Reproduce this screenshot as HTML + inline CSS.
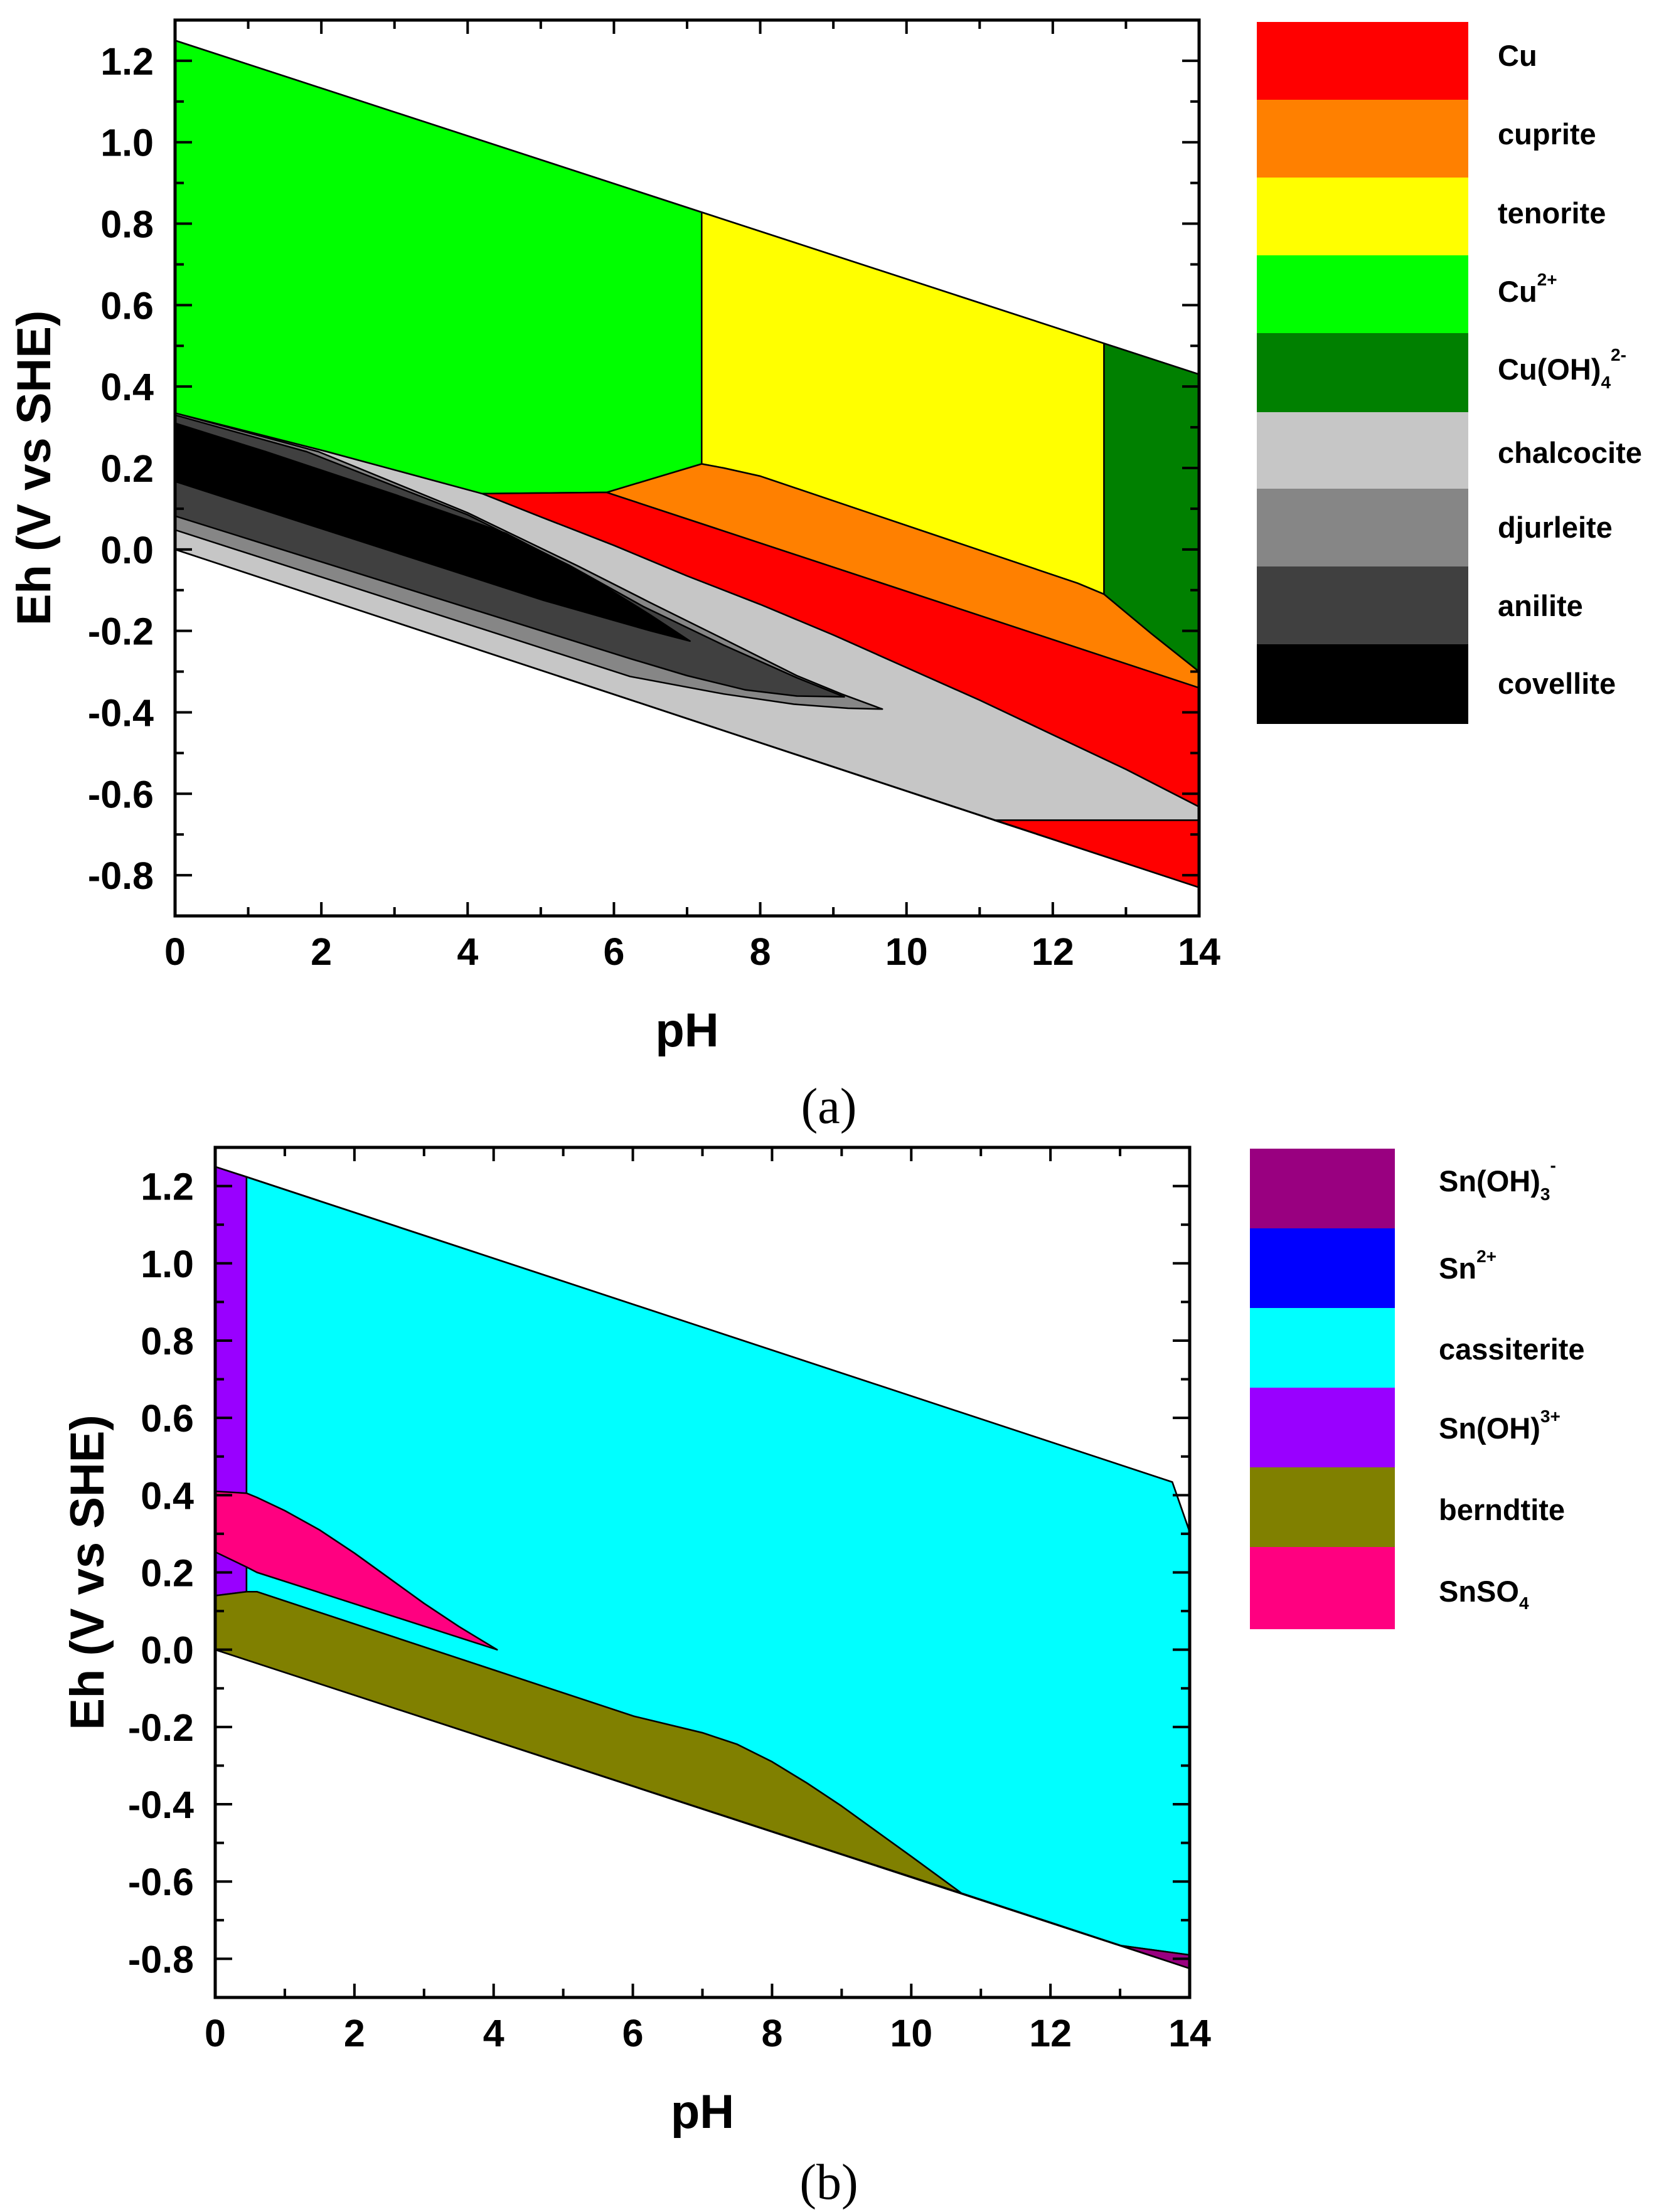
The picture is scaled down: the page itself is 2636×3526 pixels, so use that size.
<!DOCTYPE html>
<html>
<head>
<meta charset="utf-8">
<style>
html,body{margin:0;padding:0;background:#fff;}
svg{display:block;}
.tick{font-family:"Liberation Sans",sans-serif;font-weight:bold;font-size:61px;fill:#000;}
.title{font-family:"Liberation Sans",sans-serif;font-weight:bold;font-size:76px;fill:#000;}
.leg{font-family:"Liberation Sans",sans-serif;font-weight:bold;font-size:47px;fill:#000;}
.cap{font-family:"Liberation Serif",serif;font-size:80px;fill:#000;}
</style>
</head>
<body>
<svg id="fig" width="2636" height="3526" viewBox="0 0 2636 3526" xmlns="http://www.w3.org/2000/svg">
<rect x="0" y="0" width="2636" height="3526" fill="#fff"/>
<g id="chartA"></g>
<g id="chartB"></g>

<!-- Legend A -->
<g>
  <g><rect x="2003" y="35" width="337" height="125" fill="#ff0000"/><text class="leg" x="2387" y="105">Cu</text></g>
  <g><rect x="2003" y="159" width="337" height="125" fill="#ff8000"/><text class="leg" x="2387" y="230">cuprite</text></g>
  <g><rect x="2003" y="283" width="337" height="125" fill="#ffff00"/><text class="leg" x="2387" y="356">tenorite</text></g>
  <g><rect x="2003" y="407" width="337" height="125" fill="#00ff00"/><text class="leg" x="2387" y="481">Cu<tspan font-size="28" dy="-26">2+</tspan></text></g>
  <g><rect x="2003" y="531" width="337" height="126" fill="#008000"/><text class="leg" x="2387" y="605">Cu(OH)<tspan font-size="28" dy="14">4</tspan><tspan font-size="28" dy="-44">2-</tspan></text></g>
  <g><rect x="2003" y="657" width="337" height="123" fill="#c6c6c6"/><text class="leg" x="2387" y="738">chalcocite</text></g>
  <g><rect x="2003" y="779" width="337" height="125" fill="#868686"/><text class="leg" x="2387" y="857">djurleite</text></g>
  <g><rect x="2003" y="903" width="337" height="125" fill="#404040"/><text class="leg" x="2387" y="982">anilite</text></g>
  <g><rect x="2003" y="1027" width="337" height="127" fill="#000000"/><text class="leg" x="2387" y="1106">covellite</text></g>
</g>

<!-- Legend B -->
<g>
  <g><rect x="1992" y="1831" width="231" height="128" fill="#990080"/><text class="leg" x="2293" y="1899">Sn(OH)<tspan font-size="28" dy="14">3</tspan><tspan font-size="28" dy="-46">-</tspan></text></g>
  <g><rect x="1992" y="1958" width="231" height="128" fill="#0000ff"/><text class="leg" x="2293" y="2038">Sn<tspan font-size="28" dy="-26">2+</tspan></text></g>
  <g><rect x="1992" y="2085" width="231" height="128" fill="#00ffff"/><text class="leg" x="2293" y="2167">cassiterite</text></g>
  <g><rect x="1992" y="2212" width="231" height="128" fill="#9900ff"/><text class="leg" x="2293" y="2293">Sn(OH)<tspan font-size="28" dy="-26">3+</tspan></text></g>
  <g><rect x="1992" y="2339" width="231" height="128" fill="#808000"/><text class="leg" x="2293" y="2423">berndtite</text></g>
  <g><rect x="1992" y="2466" width="231" height="131" fill="#ff0080"/><text class="leg" x="2293" y="2553">SnSO<tspan font-size="28" dy="12">4</tspan></text></g>
</g>

<text class="cap" x="1321" y="1790" text-anchor="middle">(a)</text>
<text class="cap" x="1321" y="3505" text-anchor="middle">(b)</text>
</svg>

<script>
// ---------- Axis data ----------
const xTickLabels = ["0","2","4","6","8","10","12","14"];
const xTickValues = [0,2,4,6,8,10,12,14];
const yTickValues = [-0.8,-0.6,-0.4,-0.2,0.0,0.2,0.4,0.6,0.8,1.0,1.2];
const yTickLabels = ["-0.8","-0.6","-0.4","-0.2","0.0","0.2","0.4","0.6","0.8","1.0","1.2"];

// ---------- Chart A data (pH, Eh) ----------
const aChalcocite = [[0,0.335],[2.08,0.24],[4.2,0.137],[5,0.08],[6,0.01],[7,-0.065],[8,-0.135],[9,-0.21],[10,-0.29],[11,-0.37],[12,-0.455],[13,-0.54],[14,-0.632],[14,-0.665],[11.2,-0.665],[0,0]];
const aCu2plus = [[0,1.25],[7.2,0.828],[7.2,0.21],[5.9,0.14],[4.2,0.137],[2.08,0.24],[0,0.335]];
const aTenorite = [[7.2,0.828],[12.7,0.506],[12.7,-0.11],[12.34,-0.083],[8,0.18],[7.5,0.2],[7.2,0.21]];
const aCuprite = [[5.9,0.14],[7.2,0.21],[7.5,0.2],[8,0.18],[12.34,-0.083],[12.7,-0.11],[13.35,-0.207],[14,-0.30],[14,-0.34]];
const aCuOH4 = [[12.7,0.506],[14,0.43],[14,-0.30],[13.35,-0.207],[12.7,-0.11]];
const aCu = [[4.2,0.137],[5.9,0.14],[14,-0.34],[14,-0.632],[13,-0.54],[12,-0.455],[11,-0.37],[10,-0.29],[9,-0.21],[8,-0.135],[7,-0.065],[6,0.01],[5,0.08]];
const aCuLow = [[11.2,-0.665],[14,-0.665],[14,-0.83]];
const aDjurleite = [[0,0.335],[1.96,0.24],[4,0.09],[5.5,-0.04],[6.49,-0.13],[7.5,-0.22],[8.5,-0.31],[9.11,-0.355],[9.67,-0.392],[9.2,-0.39],[8.46,-0.38],[7.5,-0.355],[6.22,-0.312],[0,0.048]];
const aAnilite = [[0,0.33],[1.8,0.24],[4,0.085],[5.4,-0.04],[6.4,-0.14],[7.5,-0.235],[8.5,-0.315],[9.15,-0.362],[8.5,-0.36],[7.8,-0.345],[7,-0.31],[6.22,-0.268],[0,0.082]];
const aCovellite = [[0,0.31],[1.24,0.24],[3,0.135],[4.52,0.04],[5.6,-0.06],[6.49,-0.16],[7.04,-0.225],[6.5,-0.2],[5.04,-0.125],[0,0.167]];
const aWaterTop = [[0,1.25],[14,0.43]];
const aWaterBottom = [[0,0],[14,-0.83]];

// ---------- Chart B data ----------
const bSnOH3plus = [[0,1.25],[0.45,1.224],[0.45,0.15],[0,0.14]];
const bCassiterite = [[0.45,1.224],[13.75,0.434],[14,0.305],[14,-0.79],[13.02,-0.766],[10.72,-0.63],[10,-0.535],[9.5,-0.47],[9,-0.405],[8.5,-0.345],[8,-0.29],[7.5,-0.245],[7,-0.215],[6.01,-0.172],[0.6,0.15],[0.45,0.15]];
const bBerndtite = [[0,0.14],[0.45,0.15],[0.6,0.15],[6.01,-0.172],[7,-0.215],[7.5,-0.245],[8,-0.29],[8.5,-0.345],[9,-0.405],[9.5,-0.47],[10,-0.535],[10.72,-0.63],[0,0]];
const bSnSO4 = [[0,0.41],[0.45,0.405],[0.6,0.394],[1,0.36],[1.5,0.31],[2,0.25],[2.5,0.185],[3,0.12],[3.5,0.06],[4.05,0.0],[0.6,0.2],[0.45,0.214],[0,0.253]];
const bSnOH3minus = [[13.02,-0.766],[14,-0.79],[14,-0.825]];
const bWaterTop = [[0,1.25],[13.75,0.434],[14,0.305]];
const bWaterBottom = [[0,0],[14,-0.825]];

const NS = "http://www.w3.org/2000/svg";
function mk(tag, attrs, parent){
  const e = document.createElementNS(NS, tag);
  for (const k in attrs) e.setAttribute(k, attrs[k]);
  parent.appendChild(e);
  return e;
}

function drawChart(g, box, regions, lines, yTitleX){
  const xMin=0, xMax=14, yMin=-0.9, yMax=1.3;
  const sx = v => box.L + (v-xMin)/(xMax-xMin)*(box.R-box.L);
  const sy = v => box.B - (v-yMin)/(yMax-yMin)*(box.B-box.T);
  const regG = mk('g', {}, g);
  
  
  regions.forEach(r => {
    const p = mk('polygon', {points: r.pts.map(q => sx(q[0]).toFixed(1)+','+sy(q[1]).toFixed(1)).join(' '), fill: r.color, stroke:'#000', 'stroke-width':2.5, 'stroke-linejoin':'round'}, regG);
    
    
  });
  lines.forEach(l => {
    const p = mk('polyline', {points: l.pts.map(q => sx(q[0]).toFixed(1)+','+sy(q[1]).toFixed(1)).join(' '), fill:'none', stroke:'#000', 'stroke-width':2.5}, g);
    
    
  });
  const fr = mk('rect', {x:box.L, y:box.T, width:box.R-box.L, height:box.B-box.T, fill:'none', stroke:'#000', 'stroke-width':5}, g);
  
  
  const tk = mk('g', {stroke:'#000', 'stroke-width':4}, g);
  
  
  for (let v=0; v<=14; v+=1){
    const len = (v%2===0)?22:14, x=sx(v);
    mk('line',{x1:x,y1:box.B,x2:x,y2:box.B-len},tk);
    mk('line',{x1:x,y1:box.T,x2:x,y2:box.T+len},tk);
  }
  for (let i=-8; i<=12; i++){
    const v=i/10, major=(i%2===0), len=major?27:14, y=sy(v);
    mk('line',{x1:box.L,y1:y,x2:box.L+len,y2:y},tk);
    mk('line',{x1:box.R,y1:y,x2:box.R-len,y2:y},tk);
  }
  xTickValues.forEach((v,i) => {
    const t = mk('text',{x:sx(v), y:box.B+78, 'text-anchor':'middle', class:'tick'}, g);
    t.textContent = xTickLabels[i];
    
    
  });
  yTickValues.forEach((v,i) => {
    const t = mk('text',{x:box.L-34, y:sy(v)+22, 'text-anchor':'end', class:'tick'}, g);
    t.textContent = yTickLabels[i];
    
    
  });
  const xt = mk('text',{x:(box.L+box.R)/2, y:box.B+208, 'text-anchor':'middle', class:'title'}, g);
  xt.textContent = 'pH';
  
  
  const cy=(box.T+box.B)/2;
  const yt = mk('text',{x:yTitleX, y:cy, 'text-anchor':'middle', transform:'rotate(-90 '+yTitleX+' '+cy+')', class:'title'}, g);
  yt.textContent = 'Eh (V vs SHE)';
  
  
}

drawChart(document.getElementById('chartA'), {L:279,R:1911,T:32,B:1460}, [
  {name:'region-chalcocite', color:'#c6c6c6', pts:aChalcocite},
  {name:'region-cu2plus', color:'#00ff00', pts:aCu2plus},
  {name:'region-tenorite', color:'#ffff00', pts:aTenorite},
  {name:'region-cuprite', color:'#ff8000', pts:aCuprite},
  {name:'region-cuoh4', color:'#008000', pts:aCuOH4},
  {name:'region-cu', color:'#ff0000', pts:aCu},
  {name:'region-cu-low', color:'#ff0000', pts:aCuLow},
  {name:'region-djurleite', color:'#868686', pts:aDjurleite},
  {name:'region-anilite', color:'#404040', pts:aAnilite},
  {name:'region-covellite', color:'#000000', pts:aCovellite}
], [
  {name:'water-upper-line', pts:aWaterTop},
  {name:'water-lower-line', pts:aWaterBottom}
], 80);

drawChart(document.getElementById('chartB'), {L:343,R:1896,T:1829,B:3184}, [
  {name:'region-snoh-3plus', color:'#9900ff', pts:bSnOH3plus},
  {name:'region-cassiterite', color:'#00ffff', pts:bCassiterite},
  {name:'region-berndtite', color:'#808000', pts:bBerndtite},
  {name:'region-snso4', color:'#ff0080', pts:bSnSO4},
  {name:'region-snoh3-minus', color:'#990080', pts:bSnOH3minus}
], [
  {name:'water-upper-line', pts:bWaterTop},
  {name:'water-lower-line', pts:bWaterBottom}
], 165);
</script>
</body>
</html>
